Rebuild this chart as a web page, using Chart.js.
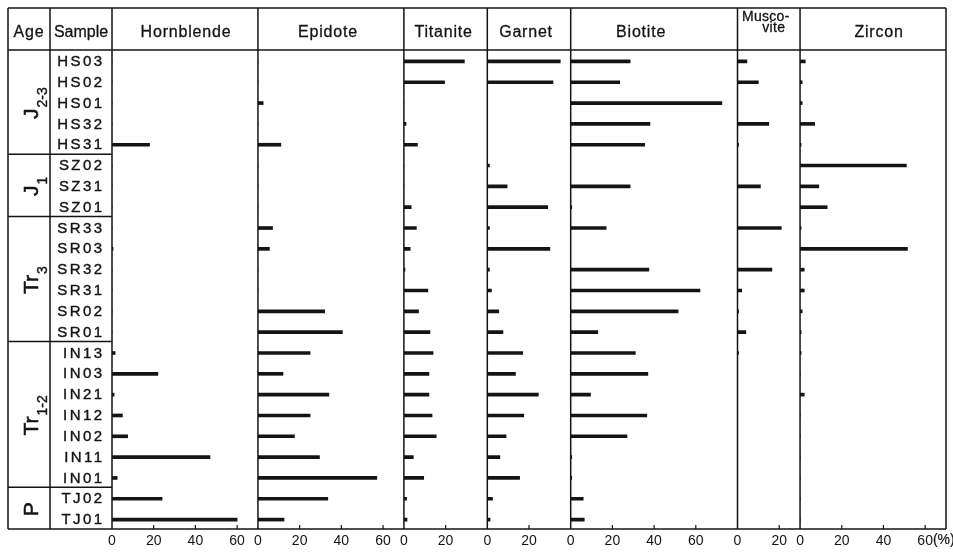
<!DOCTYPE html>
<html><head><meta charset="utf-8">
<script src="https://cdn.jsdelivr.net/npm/chart.js@4.4.1/dist/chart.umd.min.js"></script>
<style>html,body{margin:0;padding:0;background:#fff;}canvas{display:block;}</style>
</head><body>
<canvas id="c" width="953" height="554"></canvas>
<script>
// ---- data ----
const samples = ['HS03','HS02','HS01','HS32','HS31','SZ02','SZ31','SZ01','SR33','SR03','SR32','SR31','SR02','SR01','IN13','IN03','IN21','IN12','IN02','IN11','IN01','TJ02','TJ01'];
const ageMain = ['J','J','Tr','Tr','P'];
const ageSub = ['2-3','1','3','1-2',''];
const ageCounts = [5,3,6,7,2];
const minerals = ['Hornblende','Epidote','Titanite','Garnet','Biotite','Musco-|vite','Zircon'];
const axisMax = [70,70,40,40,80,30,70];
const tickStep = 20;

const hornblende = [0,0,0,0,18,0,0,0,0,0.5,0,0,0,0,1.5,22,1,5,7.5,47,2.5,24,60];
const epidote    = [0,0,2.5,0,11,0,0,0,7,5.5,0,0,32,40.5,25,12,34,25,17.5,29.5,57,33.5,12.5];
const titanite   = [29,19.5,0,1,6.5,0,0,3.5,6,3,0.5,11.5,7,12.5,14,12,12,13.5,15.5,4.5,9.5,1.3,1.5];
const garnet     = [35,31.5,0,0,0,1,9.5,29,1,30,1,2,5.5,7.5,17,13.5,24.5,17.5,9,6,15.5,2.5,1.3];
const biotite    = [28.5,23.5,72.5,38,35.5,0,28.5,0.5,17,0,37.5,62,51.5,13,31,37,9.5,36.5,27,0.5,0.5,6,6.5];
const muscovite  = [4.5,10,0,15,0.5,0,11,0,21,0,16.5,2,0.5,4,0.5,0,0,0,0,0,0,0,0];
const zircon     = [2.5,1,1,7,0.5,51,9,13,0.5,51.5,2,2,1,0.5,0.5,0,2,0,0,0,0,0,0];
const series = [hornblende, epidote, titanite, garnet, biotite, muscovite, zircon];

// ---- style ----
const FONT = '"Liberation Sans", Arial, Helvetica, sans-serif';
const INK = '#141414';
const headerShift = [1,-3,-2,-3,-13,0,6];

const scales = { y: { type:'category', display:false, offset:true } };
minerals.forEach((m,i)=>{
  scales['x'+i] = {
    type:'linear', position:'bottom', stack:'panels', stackWeight:axisMax[i],
    min:0, max:axisMax[i],
    grid:{display:false, drawTicks:false},
    border:{display:false},
    ticks:{stepSize:tickStep, includeBounds:false, autoSkip:false, maxRotation:0, minRotation:0, padding:3,
      color:INK, font:{family:FONT, size:14},
      callback:(v)=> v >= axisMax[i] ? '' : String(v)},
    afterFit:(s)=>{ s.height = 24; }
  };
});

const datasets = series.map((d,i)=>({
  data:d, xAxisID:'x'+i, yAxisID:'y', backgroundColor:INK, borderWidth:0,
  barThickness:3, grouped:false
}));

function heavyText(ctx, txt, x, y, w){
  ctx.fillText(txt, x, y);
  ctx.lineWidth = w; ctx.strokeStyle = INK; ctx.lineJoin='round';
  ctx.strokeText(txt, x, y);
}

const frame = {
  id:'frame',
  afterDraw(chart){
    const ctx = chart.ctx, y = chart.scales.y;
    const xs = minerals.map((_,i)=>chart.scales['x'+i]);
    const top = 8, head = 50, bottom = 529, left = 8, ageR = 50;
    const sampleR = xs[0].left, right = xs[xs.length-1].right;
    ctx.save();
    ctx.strokeStyle = INK; ctx.lineWidth = 1.5;
    const line=(x1,y1,x2,y2)=>{ctx.beginPath();ctx.moveTo(x1,y1);ctx.lineTo(x2,y2);ctx.stroke();};
    line(left,top,right,top); line(left,head,right,head); line(left,bottom,right,bottom);
    line(left,top,left,bottom); line(ageR,top,ageR,bottom);
    xs.forEach(s=>line(s.left,top,s.left,bottom));
    line(right,top,right,bottom);
    // group separators
    let idx = 0;
    ageCounts.forEach(n=>{
      idx += n;
      if (idx < samples.length){
        const yy = (y.getPixelForValue(idx-1)+y.getPixelForValue(idx))/2 - 1;
        line(left,yy,sampleR,yy);
      }
    });
    // inner tick marks
    ctx.lineWidth = 1.2;
    xs.forEach((s,i)=>s.ticks.forEach(t=>{
      if (t.value>0 && t.value<axisMax[i]){ const px=s.getPixelForValue(t.value); line(px,bottom,px,bottom-4); }
    }));
    // headers
    ctx.fillStyle = INK; ctx.textAlign='center'; ctx.textBaseline='alphabetic';
    ctx.font = '16px '+FONT;
    ctx.letterSpacing = '0.8px';
    heavyText(ctx,'Age', (left+ageR)/2, 36.5, 0.3);
    ctx.letterSpacing = '0px';
    heavyText(ctx,'Sample', (ageR+sampleR)/2, 36.5, 0.3);
    ctx.letterSpacing = '0.8px';
    xs.forEach((s,i)=>{
      const cx = (s.left+s.right)/2 + headerShift[i];
      const parts = minerals[i].split('|');
      if (parts.length===1){ ctx.font='16px '+FONT; heavyText(ctx,parts[0], cx, 36.5, 0.3); }
      else {
        ctx.font='14px '+FONT; ctx.letterSpacing='0.3px';
        heavyText(ctx,parts[0], cx-3, 21, 0.3);
        heavyText(ctx,parts[1], cx+5, 31.5, 0.3);
        ctx.letterSpacing='0.8px';
      }
    });
    // sample labels
    ctx.font = '15px '+FONT; ctx.letterSpacing='2.4px';
    ctx.textAlign='right'; ctx.textBaseline='middle';
    samples.forEach((s,i)=>heavyText(ctx, s, 102+2.4, y.getPixelForValue(i)+0.5, 0.4));
    // age labels (rotated)
    ctx.letterSpacing='0px';
    idx = 0;
    ageCounts.forEach((n,g)=>{
      const yc = (y.getPixelForValue(idx)+y.getPixelForValue(idx+n-1))/2; idx += n;
      ctx.save(); ctx.translate(38, yc); ctx.rotate(-Math.PI/2);
      ctx.textAlign='left'; ctx.textBaseline='alphabetic';
      ctx.font='21px '+FONT; const w1 = ctx.measureText(ageMain[g]).width;
      ctx.font='14px '+FONT; const w2 = ageSub[g] ? ctx.measureText(ageSub[g]).width + 1 : 0;
      const x0 = -(w1+w2)/2;
      ctx.font='21px '+FONT; heavyText(ctx, ageMain[g], x0, 0, 0.6);
      if (ageSub[g]){ ctx.font='14px '+FONT; heavyText(ctx, ageSub[g], x0+w1+1, 8.5, 0.4); }
      ctx.restore();
    });
    // percent unit after last axis label
    const z = xs[xs.length-1];
    ctx.font = '14px '+FONT; ctx.textAlign='left'; ctx.textBaseline='top';
    const p60 = z.getPixelForValue(60);
    heavyText(ctx, '(%)', p60 + ctx.measureText('60').width/2, z.top+3, 0.2);
    ctx.restore();
  }
};

new Chart(document.getElementById('c'), {
  type:'bar',
  data:{ labels:samples, datasets },
  options:{
    indexAxis:'y', responsive:false, animation:false, devicePixelRatio:1,
    layout:{ padding:{ left:112, right:7, top:51, bottom:0 } },
    plugins:{ legend:{display:false}, tooltip:{enabled:false} },
    scales
  },
  plugins:[frame]
});
</script>
</body></html>
